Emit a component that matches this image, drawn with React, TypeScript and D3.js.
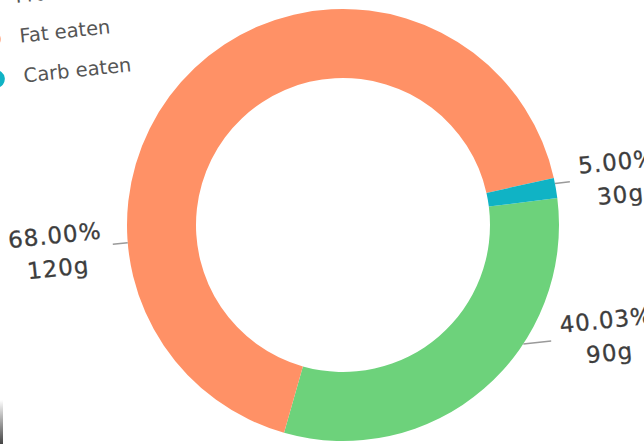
import React from "react";
import * as d3 from "d3";

// ---- data ----
const categories = ["Protein eaten", "Fat eaten", "Carb eaten"];
const grams = [90, 120, 30];
const percentLabels = ["40.03%", "68.00%", "5.00%"];
// slice shares as read from the drawn arcs
const sliceShares = [31.4, 67.1, 1.5];
const colors = ["#6DD27B", "#FF9166", "#10B3C5"];

// ---- layout ----
const W = 644;
const H = 444;
const CX = 343;
const CY = 225;
const TILT = -6;
const R_OUT = 216;
const R_IN = 147;
const START_DEG = 88.8;
const labelAnglesDeg = [129.4, 271.3, 84.9];
const leaderLengths = [28, 15, 15];
const LABEL_FONT = 23;
const LABEL_SPACING = 1;
const LEGEND_FONT = 19.5;
const FONT = "'DejaVu Sans', sans-serif";

const rad = (d: number) => (d * Math.PI) / 180;

function textWidth(s: string, size: number) {
  if (typeof document === "undefined") return s.length * size * 0.6;
  const c = document.createElement("canvas");
  const ctx = c.getContext("2d");
  if (!ctx) return s.length * size * 0.6;
  ctx.font = `${size}px 'DejaVu Sans'`;
  return ctx.measureText(s).width + LABEL_SPACING * s.length;
}

export default function App() {
  const pie = d3
    .pie<number>()
    .sort(null)
    .value((d) => d)
    .startAngle(rad(START_DEG))
    .endAngle(rad(START_DEG) + 2 * Math.PI);
  const arcs = pie(sliceShares);
  const arcGen = d3.arc<d3.PieArcDatum<number>>().innerRadius(R_IN).outerRadius(R_OUT);
  const edge = d3.arc<any>().innerRadius(R_OUT).outerRadius(R_OUT);

  return (
    <svg
      width={W}
      height={H}
      style={{ position: "fixed", left: 0, top: 0, background: "#fff" }}
    >
      <defs>
        <linearGradient id="edgeGrad" x1="0" y1="0" x2="0" y2="1">
          <stop offset="0" stopColor="#fff" />
          <stop offset="1" stopColor="#444" />
        </linearGradient>
      </defs>
      <rect x={0} y={0} width={W} height={H} fill="#fff" />
      <g transform={`translate(${CX},${CY}) rotate(${TILT})`}>
        {arcs.map((a, i) => (
          <path key={i} d={arcGen(a) || ""} fill={colors[i]} />
        ))}
        {arcs.map((a, i) => {
          const ang = rad(labelAnglesDeg[i]);
          const [sx, sy] = edge.centroid({ startAngle: ang, endAngle: ang });
          const dir = sx >= 0 ? 1 : -1;
          const ex = sx + dir * leaderLengths[i];
          const w = textWidth(percentLabels[i], LABEL_FONT);
          const tx = ex + dir * (10 + w / 2);
          return (
            <g key={"l" + i}>
              <line x1={sx} y1={sy} x2={ex} y2={sy} stroke="#9a9a9a" strokeWidth={1.5} />
              <text
                x={tx}
                y={sy - 15}
                textAnchor="middle"
                dominantBaseline="central"
                fontFamily={FONT}
                fontSize={LABEL_FONT}
                letterSpacing={LABEL_SPACING}
                fill="#3d3d3d"
                stroke="#3d3d3d"
                strokeWidth={0.3}
              >
                {percentLabels[i]}
              </text>
              <text
                x={tx}
                y={sy + 18}
                textAnchor="middle"
                dominantBaseline="central"
                fontFamily={FONT}
                fontSize={LABEL_FONT}
                letterSpacing={LABEL_SPACING}
                fill="#3d3d3d"
                stroke="#3d3d3d"
                strokeWidth={0.3}
              >
                {`${grams[i]}g`}
              </text>
            </g>
          );
        })}
        {categories.map((c, i) => {
          const by = -255 + i * 40;
          return (
            <g key={"lg" + i}>
              <circle cx={-330} cy={by - 6.5} r={9} fill={colors[i]} />
              <text x={-302} y={by} fontFamily={FONT} fontSize={LEGEND_FONT} fill="#555">
                {c}
              </text>
            </g>
          );
        })}
      </g>
      <rect x={0} y={400} width={3} height={44} fill="url(#edgeGrad)" />
    </svg>
  );
}
